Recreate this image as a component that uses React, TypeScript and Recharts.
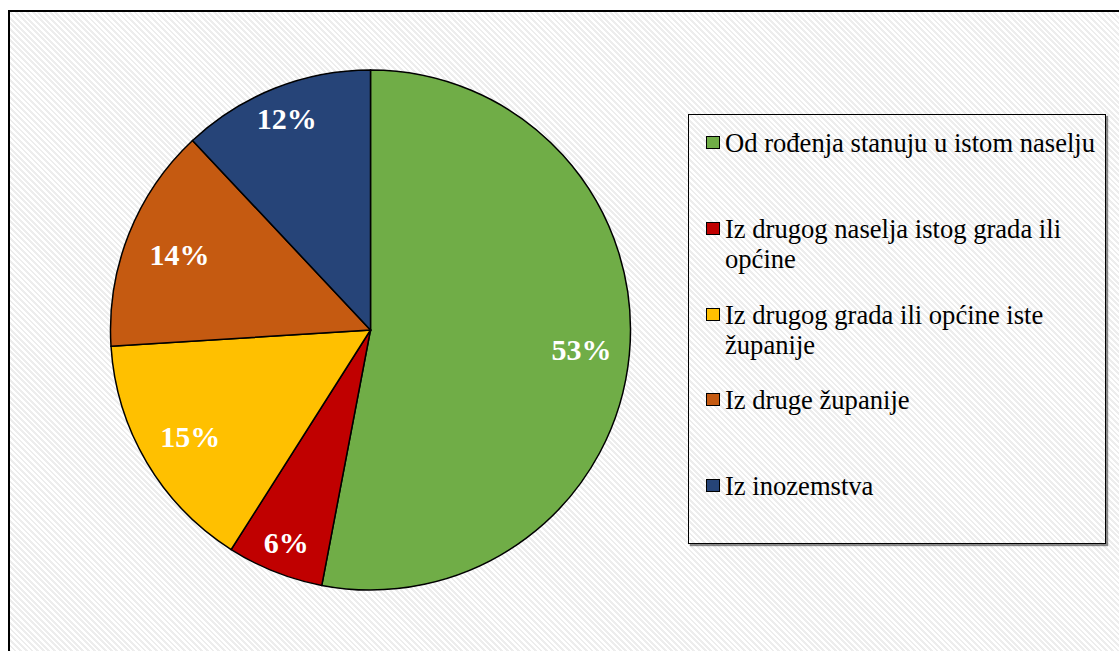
import React from 'react';
import { PieChart, Pie, Cell, Legend } from 'recharts';

const categories = [
  'Od rođenja stanuju u istom naselju',
  'Iz drugog naselja istog grada ili općine',
  'Iz drugog grada ili općine iste županije',
  'Iz druge županije',
  'Iz inozemstva',
];
const values = [53, 6, 15, 14, 12];
const colors = ['#70AD47', '#C00000', '#FFC000', '#C55A11', '#264478'];
const labelRadiusFactor = [0.815, 0.88, 0.805, 0.79, 0.875];

const data = categories.map((name, i) => ({ name, value: values[i] }));
const total = values.reduce((a, b) => a + b, 0);

const FONT = "'Liberation Serif'";
const RAD = Math.PI / 180;

const renderLabel = (props: any) => {
  const { cx, cy, midAngle, outerRadius, index, value } = props;
  const r = outerRadius * labelRadiusFactor[index];
  const x = cx + r * Math.cos(-midAngle * RAD);
  const y = cy + r * Math.sin(-midAngle * RAD);
  return (
    <text
      x={x}
      y={y}
      fill="#ffffff"
      textAnchor="middle"
      dominantBaseline="central"
      style={{ fontFamily: FONT, fontWeight: 'bold', fontSize: 30 }}
    >
      {`${Math.round((value / total) * 100)}%`}
    </text>
  );
};

const LegendContent = () => {
  return (
    <div style={{ position: 'relative', width: 415, height: 427 }}>
      {categories.map((name, i) => (
        <div
          key={i}
          style={{
            position: 'absolute',
            left: 17,
            top: 13 + i * 85.75,
            display: 'flex',
            alignItems: 'flex-start',
          }}
        >
          <div
            style={{
              width: 12,
              height: 11,
              marginTop: 8,
              background: colors[i],
              border: '1.5px solid #000',
              flexShrink: 0,
            }}
          />
          <div
            style={{
              marginLeft: 5,
              width: 376,
              fontFamily: FONT,
              fontSize: 26.6,
              lineHeight: '30px',
              color: '#000',
              textAlign: 'left',
            }}
          >
            {name}
          </div>
        </div>
      ))}
    </div>
  );
};

export default function App() {
  return (
    <div
      style={{
        position: 'fixed',
        left: 0,
        top: 0,
        width: 1119,
        height: 651,
        overflow: 'hidden',
        background: '#fff',
        fontFamily: FONT,
      }}
    >
      <style>{`.recharts-pie-sectors { filter: drop-shadow(0px 1px 8px rgba(0,0,0,0.6)); }`}</style>
      <div
        style={{
          position: 'absolute',
          left: 8,
          top: 10,
          width: 1200,
          height: 700,
          border: '2px solid #000',
          background:
            'repeating-linear-gradient(45deg, #ffffff 0px, #ffffff 2px, #ededed 2px, #ededed 4px)',
        }}
      />
      <div style={{ position: 'absolute', left: 0, top: 0 }}>
        <PieChart width={1119} height={651} margin={{ top: 0, right: 0, bottom: 0, left: 0 }}>
          <Pie
            data={data}
            dataKey="value"
            nameKey="name"
            cx={370.5}
            cy={330}
            outerRadius={260}
            startAngle={90}
            endAngle={-270}
            stroke="#000"
            strokeWidth={1.5}
            label={renderLabel}
            labelLine={false}
            isAnimationActive={false}
          >
            {data.map((_, i) => (
              <Cell key={i} fill={colors[i]} />
            ))}
          </Pie>
          <Legend
            layout="vertical"
            align="right"
            verticalAlign="middle"
            content={<LegendContent />}
            wrapperStyle={{
              position: 'absolute',
              left: 688,
              top: 114,
              width: 418,
              height: 430,
              border: '1.5px solid #000',
              boxShadow: '2px 2px 1px rgba(0,0,0,0.45)',
              boxSizing: 'border-box',
            }}
          />
        </PieChart>
      </div>
    </div>
  );
}
